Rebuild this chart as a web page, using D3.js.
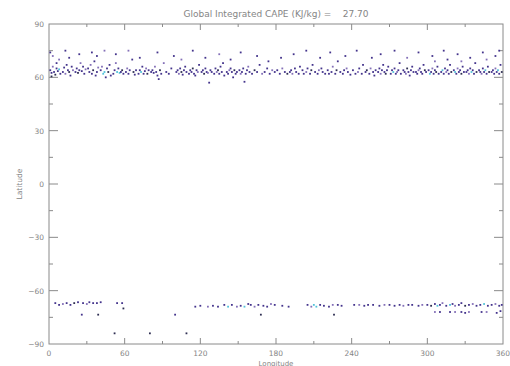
<!DOCTYPE html>
<html>
<head>
<meta charset="utf-8">
<script src="https://cdn.jsdelivr.net/npm/d3@7"></script>
<style>
  body { margin: 0; background: #fff; }
  svg { display: block; }
  text { font-family: "DejaVu Sans", sans-serif; fill: #858585; }
</style>
</head>
<body>
<div class="chart-wrapper"></div>
<script>
// title + tick values
const titleText = 'Global Integrated CAPE (KJ/kg) =    27.70';
const lonTicks = [0, 60, 120, 180, 240, 300, 360];
const latTicks = [-90, -60, -30, 0, 30, 60, 90];

// point colours: 0 purple, 1 cyan, 2 near black, 3 light violet
const pointColors = ['#44348c', '#52c2da', '#2e2e52', '#8470b8'];

// northern band [lon, lat, colour]
const northPoints = [
  [1,64,0],[2,62.5,0],[3,66,3],[4,63,0],[5,61.5,2],[6,65,0],[7,63.5,0],[8,70,3],[9,62,0],[1,74,0],[3,72,3],[6,68,0],[2,60.5,2],[8,64.5,1],
  [11,63,0],[12,65.5,0],[13,62,3],[14,67,0],[15,64,0],[16,63,2],[17,61,0],[18,66,0],[19,64,3],[13,75,0],[16,71,0],
  [21,63,0],[22,65,0],[23,62.5,2],[24,64,0],[25,68,3],[26,63.5,0],[27,66,0],[28,62,0],[29,64.5,3],[24,73,0],
  [31,65,0],[32,63,0],[33,67,3],[34,62,0],[35,64,2],[36,69,0],[37,61,0],[38,63,0],[39,65.5,3],[34,74,0],[38,72,0],
  [41,64,0],[42,66,3],[43,62,1],[44,63,1],[45,60,0],[46,65,0],[47,63,2],[48,67,0],[49,61,0],[44,75,3],
  [51,62,0],[52,64,0],[53,68,3],[54,63,1],[55,65,0],[56,62.5,1],[57,63,0],[58,64,2],[59,62,0],[53,73,0],
  [61,63,0],[62,65,3],[63,62,0],[64,64,0],[66,70,0],[67,63,2],[68,61.5,0],[69,64,0],[63,75,3],
  [71,62,0],[72,64,0],[73,63,1],[74,66,0],[75,62,0],[76,63.5,0],[77,65,3],[78,62,2],[79,64,0],[72,71,0],
  [81,63,0],[82,64,0],[83,62.5,0],[84,66,3],[85,63,0],[86,61,0],[87,59,0],[88,64,2],[89,62,0],[86,74,0],
  [91,68,3],[93,63,0],[95,62,0],[97,65,0],[99,72,0],
  [101,63,0],[102,64,0],[103,62,3],[104,65,0],[105,63,2],[106,61.5,0],[107,64,0],[108,66,0],[109,63,0],[105,70,3],
  [111,62,0],[112,64,0],[113,63,0],[114,65,2],[115,62,0],[116,61,0],[117,64,0],[118,63,3],[119,67,0],[114,75,0],
  [121,63,0],[122,64,0],[123,62,2],[124,65,0],[125,63,0],[126,62.5,3],[127,57,0],[128,64,0],[129,63,0],[124,71,0],
  [131,62,0],[132,65,0],[133,63,3],[134,64,2],[135,62,0],[136,66,0],[137,63,0],[138,68,0],[139,61,0],[135,73,3],
  [141,63,0],[142,62,0],[143,64,3],[144,65,0],[145,63,0],[146,60,0],[147,64,2],[148,62,0],[149,63,0],[144,70,0],
  [151,64,0],[152,62,3],[153,63,0],[154,65,0],[155,57.5,0],[156,62,0],[157,64,0],[158,66,3],[159,63,0],[152,74,0],
  [161,62,0],[163,64,2],[165,63,0],[167,67,0],[169,62,3],[165,72,0],
  [171,63,0],[173,65,0],[175,62,0],[177,64,3],[179,63,0],[174,69,0],
  [181,64,0],[183,62,0],[185,65,3],[187,63,0],[189,62,2],[184,71,0],
  [191,63,0],[192,64,0],[193,62,3],[195,65,0],[196,63,0],[198,62,0],[199,66,0],[194,73,0],
  [201,64,0],[202,62,0],[204,63,3],[205,65,0],[207,62,0],[208,64,2],[209,67,0],[204,75,0],
  [211,63,0],[213,62,0],[214,64,3],[216,65,0],[217,63,0],[219,62,0],[215,71,0],
  [221,64,0],[222,62,0],[224,63,0],[225,66,3],[227,62,0],[228,64,2],[229,69,0],[223,74,0],
  [231,63,0],[233,62,0],[234,64,0],[236,65,3],[237,63,0],[239,61.5,0],[235,72,0],
  [241,64,0],[243,62,0],[245,63,3],[246,65,0],[248,62,0],[249,67,0],[244,75,0],
  [251,63,0],[252,64,2],[254,62,0],[255,65,3],[257,63,0],[258,61,0],[259,64,0],[256,71,0],
  [261,63,0],[262,65,0],[263,62,3],[264,64,0],[265,67,0],[266,63,0],[267,62,2],[268,64,0],[269,66,0],[263,73,0],
  [271,62,0],[272,64,0],[273,63,1],[274,65,0],[275,62,0],[276,63,3],[277,64,0],[278,68,0],[279,62,0],[274,75,0],
  [281,64,0],[282,63,0],[283,62,3],[284,65,2],[285,63,0],[286,61,0],[287,64,0],[288,66,0],[289,63,0],[284,71,3],
  [291,63,0],[292,62,0],[293,64,3],[294,65,0],[295,63,0],[296,62,0],[297,67,0],[298,64,2],[299,63,0],[293,74,0],
  [301,64,0],[302,62,1],[303,63,0],[304,65,3],[305,62,0],[306,64,0],[307,63,2],[308,66,0],[309,62,0],[304,72,0],[306,69,3],
  [311,63,0],[312,64,1],[313,62,0],[314,65,0],[315,63,3],[316,64,0],[317,62,0],[318,67,0],[319,63,2],[313,75,0],[316,70,0],
  [321,64,0],[322,63,1],[323,62,0],[324,65,3],[325,63,0],[326,64,0],[327,62,2],[328,66,0],[329,63,0],[324,73,0],[327,69,3],
  [331,63,0],[332,64,0],[333,62,3],[334,65,0],[335,63,1],[336,64,0],[337,62,0],[338,68,0],[339,63,2],[334,71,0],
  [341,64,0],[342,63,0],[343,62,3],[344,65,0],[345,63,0],[346,64,1],[347,62,0],[348,66,0],[349,63,2],[344,74,0],[347,70,3],
  [351,63,0],[352,64,0],[353,62,0],[354,65,3],[355,63,0],[356,64,1],[357,62,0],[358,67,0],[359,63,2],[354,72,0],[357,75,0]
];

// southern band [lon, lat, colour]
const southPoints = [
  [5,-67,0],[8,-68,0],[11,-67.5,3],[14,-67,0],[17,-68,0],[20,-67,2],[23,-66.5,0],[26,-73.5,0],[27,-67,0],[30,-67.5,3],[32,-66.5,0],[35,-67,0],[38,-67,0],[39,-73.5,2],[41,-66.5,0],
  [54,-67,0],[58,-67,0],[59,-70,2],[52,-84,2],[80,-84,2],[109,-84,2],[100,-73.5,0],
  [116,-69,0],[120,-68.5,0],[126,-69,3],[130,-68.5,0],[134,-69,0],[139,-68,0],[142,-69,1],[145,-68,0],[149,-69,3],[152,-68.5,0],[155,-69,1],[158,-67.5,0],[160,-68,0],[163,-69,3],[166,-68,0],[168,-73.5,2],[170,-68.5,0],[173,-69,0],[176,-67.5,3],[179,-68,0],[185,-68.5,0],[190,-69,0],
  [205,-68,0],[208,-69,3],[210,-68,1],[212,-69,1],[215,-68,0],[218,-68.5,0],[222,-69,0],[225,-68,3],[226,-73.5,2],[229,-68,0],[232,-68.5,0],
  [242,-68,0],[246,-68,3],[250,-68.5,0],[253,-68,0],[257,-68,0],[262,-68.5,0],[266,-68,3],[270,-68,0],[274,-68.5,0],[278,-68,0],[281,-68.5,3],[285,-68,0],[288,-68,0],
  [293,-68.5,0],[296,-68,3],[300,-68,0],[303,-68.5,2],[306,-67.5,0],[308,-68.5,1],[310,-68,0],[312,-67,3],[315,-68.5,0],[318,-68,1],[320,-67.5,0],[322,-68.5,3],[325,-68,0],[327,-67,0],[330,-68.5,2],[333,-68,0],[336,-67.5,3],[339,-68.5,0],[342,-68,0],[345,-67.5,1],[348,-68.5,0],[351,-68,0],[354,-67.5,3],[357,-68.5,0],[359,-68,0],
  [306,-72,3],[310,-72,0],[318,-72,0],[322,-72,3],[327,-72,0],[330,-72.5,0],[333,-72,3],[343,-72,0],[347,-72,3],[355,-72.5,0],[358,-71.5,0]
];

const margin = {top: 24, right: 7, bottom: 22, left: 49},
  width = 454,
  height = 320;

const svg = d3.select('.chart-wrapper').append('svg')
  .attr('width', 510)
  .attr('height', 366);

const g = svg.append('g')
  .attr('transform', `translate(${margin.left},${margin.top})`);

const x = d3.scaleLinear().domain([0, 360]).range([0, width]);
const y = d3.scaleLinear().domain([-90, 90]).range([height, 0]);

const axisColor = '#8a8a8a';

// frame
g.append('rect')
  .attr('width', width).attr('height', height)
  .attr('fill', 'none').attr('stroke', axisColor).attr('stroke-width', 1);

// ticks (inward, IDL style)
const lonMinor = d3.range(30, 360, 60);
const latMinor = d3.range(-75, 90, 30);
function drawTicks(sel, vals, len, orient) {
  sel.selectAll(null).data(vals).enter().append('line')
    .attr('stroke', axisColor)
    .attr('x1', d => orient === 'b' || orient === 't' ? x(d) : (orient === 'l' ? 0 : width))
    .attr('x2', d => orient === 'b' || orient === 't' ? x(d) : (orient === 'l' ? len : width - len))
    .attr('y1', d => orient === 'b' ? height : orient === 't' ? 0 : y(d))
    .attr('y2', d => orient === 'b' ? height - len : orient === 't' ? len : y(d));
}
drawTicks(g, lonTicks.slice(1, -1), 6, 'b');
drawTicks(g, lonMinor, 3, 'b');
drawTicks(g, lonTicks.slice(1, -1), 6, 't');
drawTicks(g, lonMinor, 3, 't');
drawTicks(g, latTicks.slice(1, -1), 9, 'l');
drawTicks(g, latMinor, 4, 'l');
drawTicks(g, latTicks.slice(1, -1), 9, 'r');
drawTicks(g, latMinor, 4, 'r');

// tick labels
g.selectAll('.xl').data(lonTicks).enter().append('text')
  .attr('x', d => x(d)).attr('y', height + 11.5)
  .attr('text-anchor', 'middle').attr('font-size', 7.5)
  .text(d => d);
g.selectAll('.yl').data(latTicks).enter().append('text')
  .attr('x', -5).attr('y', d => y(d) + 3)
  .attr('text-anchor', 'end').attr('font-size', 7.5)
  .text(d => d < 0 ? '\u2212' + Math.abs(d) : d);

// axis titles
g.append('text')
  .attr('x', width / 2).attr('y', height + 21.5)
  .attr('text-anchor', 'middle').attr('font-size', 7)
  .text('Longitude');
g.append('text')
  .attr('transform', `translate(-27,${height / 2}) rotate(-90)`)
  .attr('text-anchor', 'middle').attr('font-size', 7.5)
  .text('Latitude');

svg.append('text')
  .attr('x', margin.left + width / 2).attr('y', 17)
  .attr('text-anchor', 'middle').attr('font-size', 9)
  .attr('xml:space', 'preserve')
  .style('white-space', 'pre')
  .text(titleText);

// points
const allPoints = northPoints.concat(southPoints);
g.selectAll('.pt').data(allPoints).enter().append('rect')
  .attr('x', d => x(d[0]) - 0.9)
  .attr('y', d => y(d[1]) - 0.9)
  .attr('width', 1.8).attr('height', 1.8)
  .attr('fill', d => pointColors[d[2]]);
</script>
</body>
</html>
